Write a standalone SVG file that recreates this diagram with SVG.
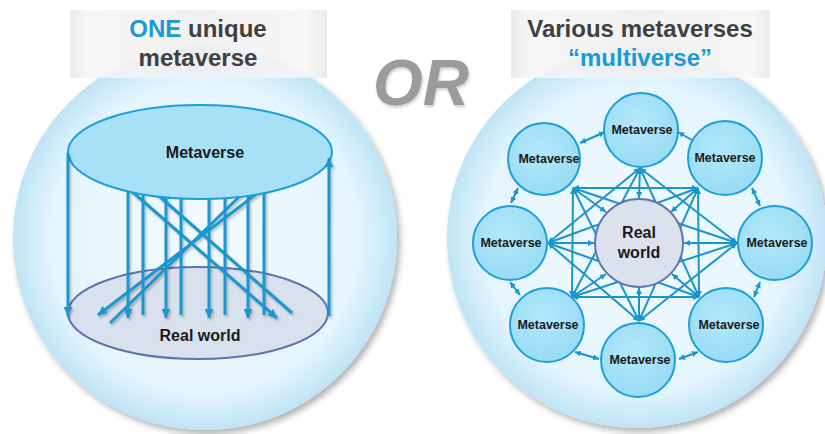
<svg xmlns="http://www.w3.org/2000/svg" width="825" height="434" viewBox="0 0 825 434">
<defs>
<style>
.ttl{font-family:"Liberation Sans",Arial,sans-serif;font-weight:bold;font-size:24px;fill:#404040;text-anchor:middle}
.blu{fill:#1a9ad6}
.lbl{font-family:"Liberation Sans",Arial,sans-serif;font-weight:bold;fill:#1a1a1a;text-anchor:middle}
.ln{stroke:#1a96cc;stroke-width:3;fill:none}
.cn{stroke:#1a96cc;stroke-width:2;fill:none}
.node{fill:url(#nodeG);stroke:#1e9fd8;stroke-width:2}
</style>
<radialGradient id="bigG" cx="50%" cy="50%" r="50%">
<stop offset="0" stop-color="#f2faff"/>
<stop offset="0.8" stop-color="#e5f5fd"/>
<stop offset="0.93" stop-color="#cdebf9"/>
<stop offset="1" stop-color="#bfe4f6"/>
</radialGradient>
<linearGradient id="boxG" x1="0" y1="0" x2="1" y2="0">
<stop offset="0" stop-color="#e8e8e8"/>
<stop offset="0.08" stop-color="#f6f6f6"/>
<stop offset="0.5" stop-color="#efefef"/>
<stop offset="0.92" stop-color="#f6f6f6"/>
<stop offset="1" stop-color="#e8e8e8"/>
</linearGradient>
<radialGradient id="nodeG" cx="45%" cy="40%" r="60%">
<stop offset="0" stop-color="#b4e8fa"/>
<stop offset="1" stop-color="#98dcf5"/>
</radialGradient>
<filter id="sh" x="-10%" y="-10%" width="125%" height="125%">
<feDropShadow dx="3" dy="4" stdDeviation="3" flood-color="#000" flood-opacity="0.3"/>
</filter>
<filter id="lsh" x="-10%" y="-10%" width="130%" height="130%">
<feDropShadow dx="1.5" dy="2" stdDeviation="1" flood-color="#000" flood-opacity="0.25"/>
</filter>
<filter id="orsh" x="-10%" y="-10%" width="130%" height="130%">
<feDropShadow dx="1" dy="2" stdDeviation="1.5" flood-color="#000" flood-opacity="0.2"/>
</filter>
<marker id="aL" viewBox="0 0 10 10" refX="10" refY="5" markerWidth="9" markerHeight="9" markerUnits="userSpaceOnUse" orient="auto-start-reverse">
<path d="M0,0 L10,5 L0,10 z" fill="#1a96cc"/>
</marker>
<marker id="aS" viewBox="0 0 10 10" refX="10" refY="5" markerWidth="6" markerHeight="6" markerUnits="userSpaceOnUse" orient="auto-start-reverse">
<path d="M0,0 L10,5 L0,10 z" fill="#1a96cc"/>
</marker>
</defs>
<rect width="825" height="434" fill="#ffffff"/>

<g id="left-panel">
<circle cx="205" cy="238" r="192" fill="url(#bigG)" filter="url(#sh)"/>
</g>
<g id="right-panel">
<circle cx="637" cy="238" r="190" fill="url(#bigG)" filter="url(#sh)"/>
</g>

<g id="title-left">
<rect x="70" y="10" width="257" height="68" fill="url(#boxG)" opacity="0.88"/>
<text class="ttl" x="198" y="37"><tspan class="blu">ONE</tspan> unique</text>
<text class="ttl" x="198" y="66">metaverse</text>
</g>
<g id="title-right">
<rect x="511" y="10" width="259" height="68" fill="url(#boxG)" opacity="0.88"/>
<text class="ttl" x="640" y="37">Various metaverses</text>
<text class="ttl blu" x="640" y="66">“multiverse”</text>
</g>
<g id="or">
<text x="421" y="105" font-family="'Liberation Sans',Arial,sans-serif" font-weight="bold" font-style="italic" font-size="64" fill="#9b9b9b" text-anchor="middle" filter="url(#orsh)">OR</text>
</g>

<g id="real-world-left">
<ellipse cx="198" cy="313" rx="130" ry="46" fill="#d9e1ee" stroke="#5a74ad" stroke-width="2"/>
<text class="lbl" x="200" y="341" font-size="16">Real world</text>
</g>

<g id="left-connectors" filter="url(#lsh)">
<path class="ln" d="M128,185 V318" marker-end="url(#aL)"/>
<path class="ln" d="M143,185 V315"/>
<path class="ln" d="M166,185 V318" marker-end="url(#aL)"/>
<path class="ln" d="M181,185 V315"/>
<path class="ln" d="M209,185 V318" marker-end="url(#aL)"/>
<path class="ln" d="M225,185 V315"/>
<path class="ln" d="M248,185 V318" marker-end="url(#aL)"/>
<path class="ln" d="M264,185 V315"/>
<path class="ln" d="M128,188 L277,318" marker-end="url(#aL)"/>
<path class="ln" d="M150,188 L292,313"/>
<path class="ln" d="M264,188 L98,315" marker-end="url(#aL)"/>
<path class="ln" d="M246,190 L110,323"/>
</g>

<g id="metaverse-left">
<ellipse cx="200" cy="152" rx="132" ry="47" fill="#a6e1f7" stroke="#1e9fd8" stroke-width="2"/>
<text class="lbl" x="205" y="158" font-size="16">Metaverse</text>
</g>

<g id="left-outer-connectors" filter="url(#lsh)">
<path class="ln" d="M68,153 V316" marker-end="url(#aL)"/>
<path class="ln" d="M329,316 V158" marker-end="url(#aL)"/>
</g>

<g id="right-connectors">
<!-- adjacent pairs -->
<path class="cn" d="M580,143 L605,132" marker-start="url(#aS)" marker-end="url(#aS)"/>
<path class="cn" d="M678,132 L697,143" marker-start="url(#aS)" marker-end="url(#aS)"/>
<path class="cn" d="M752,188 L760,206" marker-start="url(#aS)" marker-end="url(#aS)"/>
<path class="cn" d="M760,282 L754,297" marker-start="url(#aS)" marker-end="url(#aS)"/>
<path class="cn" d="M679,359 L698,352" marker-start="url(#aS)" marker-end="url(#aS)"/>
<path class="cn" d="M575,352 L599,359" marker-start="url(#aS)" marker-end="url(#aS)"/>
<path class="cn" d="M510,282 L520,295" marker-start="url(#aS)" marker-end="url(#aS)"/>
<path class="cn" d="M518,188 L511,203" marker-start="url(#aS)" marker-end="url(#aS)"/>
<!-- square -->
<path class="cn" d="M573,188 L698,188" marker-start="url(#aS)" marker-end="url(#aS)"/>
<path class="cn" d="M698,188 L699,297" marker-start="url(#aS)" marker-end="url(#aS)"/>
<path class="cn" d="M699,297 L572,297" marker-start="url(#aS)" marker-end="url(#aS)"/>
<path class="cn" d="M572,297 L573,188" marker-start="url(#aS)" marker-end="url(#aS)"/>
<!-- diamond -->
<path class="cn" d="M640,168 L737,243" marker-start="url(#aS)" marker-end="url(#aS)"/>
<path class="cn" d="M737,243 L639,321" marker-start="url(#aS)" marker-end="url(#aS)"/>
<path class="cn" d="M639,321 L548,243" marker-start="url(#aS)" marker-end="url(#aS)"/>
<path class="cn" d="M548,243 L640,168" marker-start="url(#aS)" marker-end="url(#aS)"/>
<!-- distance 3 -->
<path class="cn" d="M640,168 L699,297" marker-start="url(#aS)" marker-end="url(#aS)"/>
<path class="cn" d="M640,168 L572,297" marker-start="url(#aS)" marker-end="url(#aS)"/>
<path class="cn" d="M698,188 L639,321" marker-start="url(#aS)" marker-end="url(#aS)"/>
<path class="cn" d="M698,188 L548,243" marker-start="url(#aS)" marker-end="url(#aS)"/>
<path class="cn" d="M737,243 L572,297" marker-start="url(#aS)" marker-end="url(#aS)"/>
<path class="cn" d="M737,243 L573,188" marker-start="url(#aS)" marker-end="url(#aS)"/>
<path class="cn" d="M699,297 L548,243" marker-start="url(#aS)" marker-end="url(#aS)"/>
<path class="cn" d="M639,321 L573,188" marker-start="url(#aS)" marker-end="url(#aS)"/>
<!-- to center -->
<path class="cn" d="M640,168 L639,198" marker-end="url(#aS)"/>
<path class="cn" d="M698,188 L671,212" marker-end="url(#aS)"/>
<path class="cn" d="M737,243 L684,243" marker-end="url(#aS)"/>
<path class="cn" d="M699,297 L672,274" marker-end="url(#aS)"/>
<path class="cn" d="M639,321 L639,288" marker-end="url(#aS)"/>
<path class="cn" d="M572,297 L606,274" marker-end="url(#aS)"/>
<path class="cn" d="M548,243 L594,243" marker-end="url(#aS)"/>
<path class="cn" d="M573,188 L606,212" marker-end="url(#aS)"/>
</g>

<g id="node-real-world">
<circle cx="639" cy="243" r="44" fill="#dbe2ee" stroke="#5f78b0" stroke-width="2"/>
<text class="lbl" x="639" y="238" font-size="16">Real</text>
<text class="lbl" x="639" y="258" font-size="16">world</text>
</g>
<g id="node-top"><circle class="node" cx="641" cy="130" r="37"/><text class="lbl" x="642" y="134" font-size="12.5">Metaverse</text></g>
<g id="node-top-right"><circle class="node" cx="725" cy="158" r="37"/><text class="lbl" x="725" y="162" font-size="12.5">Metaverse</text></g>
<g id="node-right"><circle class="node" cx="775" cy="243" r="37"/><text class="lbl" x="777" y="247" font-size="12.5">Metaverse</text></g>
<g id="node-bottom-right"><circle class="node" cx="726" cy="325" r="37"/><text class="lbl" x="729" y="329" font-size="12.5">Metaverse</text></g>
<g id="node-bottom"><circle class="node" cx="638" cy="360" r="37"/><text class="lbl" x="640" y="364" font-size="12.5">Metaverse</text></g>
<g id="node-bottom-left"><circle class="node" cx="547" cy="325" r="37"/><text class="lbl" x="548" y="329" font-size="12.5">Metaverse</text></g>
<g id="node-left"><circle class="node" cx="510" cy="243" r="37"/><text class="lbl" x="511" y="247" font-size="12.5">Metaverse</text></g>
<g id="node-top-left"><circle class="node" cx="544" cy="159" r="36"/><text class="lbl" x="549" y="163" font-size="12.5">Metaverse</text></g>
</svg>
